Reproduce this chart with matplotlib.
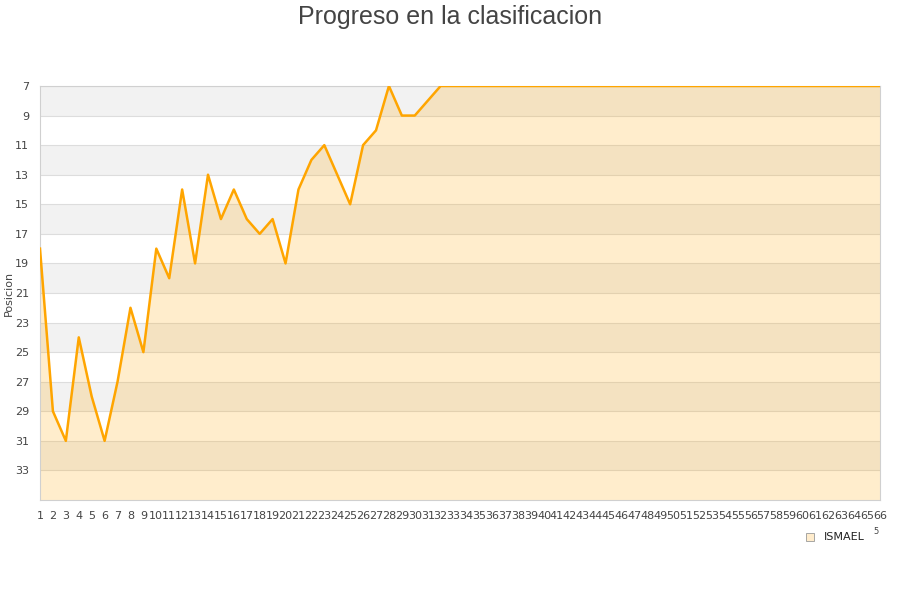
import numpy as np
import matplotlib
matplotlib.use("Agg")
import matplotlib.pyplot as plt
from matplotlib.patches import Rectangle

# jornadas 1..66 y posicion en la clasificacion
jornadas = list(range(1, 67))
posicion = [18, 29, 31, 24, 28, 31, 27, 22, 25, 18,
            20, 14, 19, 13, 16, 14, 16, 17, 16, 19,
            14, 12, 11, 13, 15, 11, 10, 7, 9, 9,
            8, 7] + [7] * 34
yticks = list(range(7, 35, 2))
serie = "ISMAEL"
titulo = "Progreso en la clasificacion"

naranja = "#ffa500"

fig = plt.figure(figsize=(9, 6), dpi=100)
ax = fig.add_axes([40 / 900, 100 / 600, 840 / 900, 414 / 600])

ymin, ymax = 7, 35
# bandas alternas grises
for y0 in range(ymin, ymax, 4):
    ax.axhspan(y0, y0 + 2, color="#f2f2f2", zorder=0, lw=0)
for y in yticks:
    ax.axhline(y, color="#dddddd", lw=0.8, zorder=1)

ax.fill_between(jornadas, posicion, ymax, color=naranja, alpha=0.2, lw=0, zorder=2)
ax.plot(jornadas, posicion, color=naranja, lw=1.8, zorder=3)

ax.set_xlim(1, 66)
ax.set_ylim(ymax, ymin)
ax.set_yticks(yticks)
ax.set_xticks(jornadas)
ax.set_xticklabels([str(j) for j in jornadas])
ax.tick_params(length=0, labelsize=8, colors="#444444", pad=8)
ax.tick_params(axis="x", pad=8)
ax.set_ylabel("Posicion", fontsize=8, color="#444444")
ax.yaxis.set_label_coords(-26 / 840, 0.5)
for s in ax.spines.values():
    s.set_color("#d0d0d0")
    s.set_linewidth(0.8)

fig.text(0.5, 1 - 17 / 600, titulo, ha="center", va="center",
         fontsize=18, color="#444444", family="Liberation Sans")

# leyenda
fig.patches.append(Rectangle((806 / 900, 1 - 541 / 600), 8 / 900, 8 / 600,
                             transform=fig.transFigure, facecolor="#ffeccc",
                             edgecolor="#999999", lw=0.6))
fig.text(824 / 900, 1 - 537 / 600, serie, ha="left", va="center",
         fontsize=8, color="#222222")
fig.text(876 / 900, 1 - 532 / 600, "5", ha="center", va="center",
         fontsize=6, color="#444444")

fig.savefig("out.png", dpi=100)
